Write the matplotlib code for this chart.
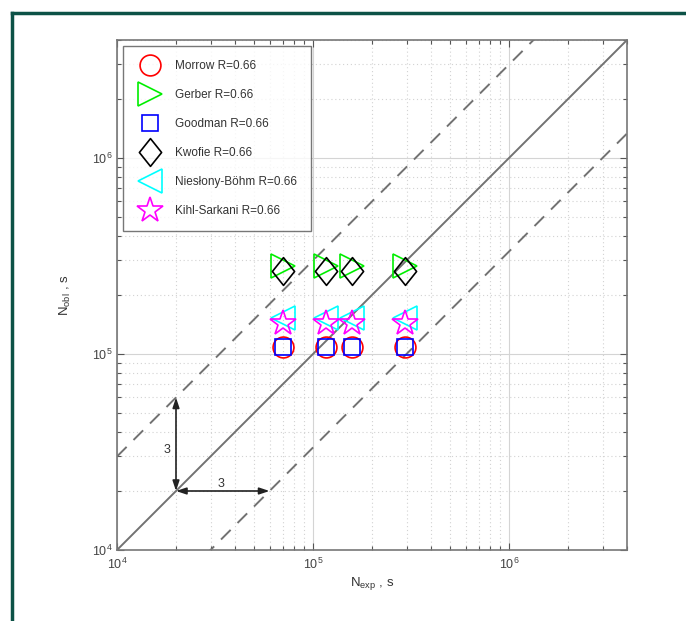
import matplotlib
matplotlib.use("Agg")
import matplotlib.pyplot as plt
from matplotlib.path import Path
from matplotlib.lines import Line2D
import numpy as np

plt.rcParams["font.family"] = ["Liberation Sans", "DejaVu Sans"]
plt.rcParams["mathtext.fontset"] = "custom"
plt.rcParams["mathtext.rm"] = "Liberation Sans"
plt.rcParams["mathtext.it"] = "Liberation Sans:italic"
plt.rcParams["mathtext.bf"] = "Liberation Sans:bold"

# ---- data ----
n_exp = [7.0e4, 1.17e5, 1.58e5, 2.95e5]
series_names = ["Morrow R=0.66", "Gerber R=0.66", "Goodman R=0.66",
                "Kwofie R=0.66", "Niesłony-Böhm R=0.66", "Kihl-Sarkani R=0.66"]
morrow = [1.08e5, 1.08e5, 1.08e5, 1.08e5]
gerber = [2.80e5, 2.80e5, 2.80e5, 2.80e5]
goodman = [1.08e5, 1.08e5, 1.08e5, 1.08e5]
kwofie = [2.65e5, 2.65e5, 2.65e5, 2.65e5]
nieslony = [1.53e5, 1.53e5, 1.53e5, 1.53e5]
kihl = [1.44e5, 1.44e5, 1.44e5, 1.44e5]
series_values = [morrow, gerber, goodman, kwofie, nieslony, kihl]
scatter_factor = 3
lim = [1e4, 4e6]
x_ticks = [1e4, 1e5, 1e6]
x_tick_labels = ["$\\mathrm{10^{4}}$", "$\\mathrm{10^{5}}$", "$\\mathrm{10^{6}}$"]
y_ticks = [1e4, 1e5, 1e6]
y_tick_labels = ["$\\mathrm{10^{4}}$", "$\\mathrm{10^{5}}$", "$\\mathrm{10^{6}}$"]

# ---- styles ----
diamond = Path([(0, 1), (0.8, 0), (0, -1), (-0.8, 0), (0, 1)],
               [Path.MOVETO, Path.LINETO, Path.LINETO, Path.LINETO, Path.CLOSEPOLY])
styles = [
    dict(marker="o", color="#ff0000", ms=15),
    dict(marker=">", color="#00ee00", ms=17),
    dict(marker="s", color="#0000ff", ms=12),
    dict(marker=diamond, color="#000000", ms=20),
    dict(marker="<", color="#00ffff", ms=17),
    dict(marker="*", color="#ff00ff", ms=19),
]

fig = plt.figure(figsize=(6.86, 6.21), dpi=100)
fig.patch.set_facecolor("white")

# frame lines (top and left) of the screenshot
frame_col = "#0d5247"
fig.add_artist(Line2D([12 / 686, 1.0], [1 - 13 / 621, 1 - 13 / 621],
                      transform=fig.transFigure, color=frame_col, lw=2.5))
fig.add_artist(Line2D([12 / 686, 12 / 686], [0, 1 - 13 / 621],
                      transform=fig.transFigure, color=frame_col, lw=2.5))

ax = fig.add_axes([117 / 686, 1 - 550 / 621, 510 / 686, 510 / 621])
ax.set_xscale("log")
ax.set_yscale("log")
ax.set_xlim(lim)
ax.set_ylim(lim)

# grid
ax.grid(True, which="major", color="#d4d4d4", lw=0.8, ls="-")
ax.grid(True, which="minor", color="#d2d2d2", lw=0.8, ls=(0, (1, 2.5)))
ax.set_axisbelow(True)

# reference lines
xl = np.array(lim)
ax.plot(xl, xl, color="#727272", lw=1.4, zorder=2)
ax.plot(xl, xl * scatter_factor, color="#727272", lw=1.4, ls=(0, (7, 5)), zorder=2)
ax.plot(xl, xl / scatter_factor, color="#727272", lw=1.4, ls=(0, (7, 5)), zorder=2)

# arrows
x0 = 2e4
ax.annotate("", xy=(x0, x0 * scatter_factor), xytext=(x0, x0),
            arrowprops=dict(arrowstyle="<|-|>,head_length=0.6,head_width=0.2",
                            color="#222222", lw=1.2, shrinkA=0, shrinkB=0))
ax.annotate("", xy=(x0 * scatter_factor, x0), xytext=(x0, x0),
            arrowprops=dict(arrowstyle="<|-|>,head_length=0.6,head_width=0.2",
                            color="#222222", lw=1.2, shrinkA=0, shrinkB=0))
ax.text(1.8e4, 3.25e4, "3", fontsize=9, color="#333333", ha="center", va="center")
ax.text(3.4e4, 2.17e4, "3", fontsize=9, color="#333333", ha="center", va="center")

# data
for name, vals, st in zip(series_names, series_values, styles):
    ax.plot(n_exp, vals, ls="none", marker=st["marker"], ms=st["ms"],
            mfc="none", mec=st["color"], mew=1.2, label=name, zorder=3)

# ticks
ax.set_xticks(x_ticks)
ax.set_xticklabels(x_tick_labels)
ax.set_yticks(y_ticks)
ax.set_yticklabels(y_tick_labels)
ax.tick_params(which="both", direction="in", top=True, right=True,
               colors="#555555", labelcolor="#444444", labelsize=9)
ax.tick_params(which="major", length=5, width=0.8)
ax.tick_params(which="minor", length=3, width=0.8)
ax.tick_params(axis="x", pad=5)
ax.tick_params(axis="y", pad=3)
for sp in ax.spines.values():
    sp.set_color("#777777")
    sp.set_linewidth(1.2)

ax.set_xlabel("N$_{\\mathrm{exp}}$ , s", fontsize=9.5, color="#333333", labelpad=2)
ax.set_ylabel("N$_{\\mathrm{obl}}$ , s", fontsize=9.5, color="#333333", labelpad=14)

leg = ax.legend(loc="upper left", bbox_to_anchor=(0.012, 0.988), fontsize=8.5,
                frameon=True, fancybox=False, edgecolor="#555555",
                labelspacing=1.45, handlelength=2.27, handletextpad=0.98,
                borderpad=1.15, borderaxespad=0.0)
leg.get_frame().set_linewidth(1.0)
for t in leg.get_texts():
    t.set_color("#333333")

fig.savefig("out.png", dpi=100, facecolor="white")
